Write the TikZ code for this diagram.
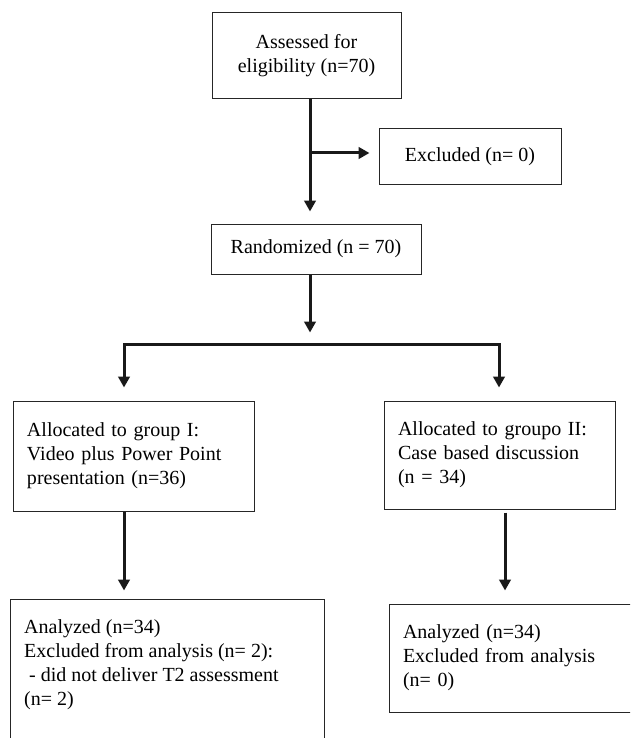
\documentclass[tikz,border=0pt]{standalone}
\usepackage{fontspec}
\setmainfont{Liberation Serif}
\usetikzlibrary{arrows.meta}
\tikzset{
  box/.style={draw=black!85, line width=1pt, inner sep=0pt, font=\fontsize{20}{24}\selectfont},
  lbox/.style={box, align=left, inner xsep=14pt},
  txt/.style={inner sep=0pt, align=left, font=\fontsize{20}{24}\selectfont},
  conn/.style={line width=3pt, draw=black!90, -{Triangle[length=11pt,width=11.5pt]}},
  plain/.style={line width=3pt, draw=black!90}
}
\begin{document}
\begin{tikzpicture}[x=1pt,y=-1pt]
\useasboundingbox (0,0) rectangle (630,738);
\clip (0,0) rectangle (630,738);
% boxes
\node[box, align=center, minimum width=189pt, minimum height=86pt] (assess) at (306.5,56) {Assessed for\\eligibility (n=70)};
\node[box, minimum width=182pt, minimum height=55pt] (excl) at (470,156.5) {Excluded (n= 0)};
\node[box, minimum width=210pt, minimum height=50pt] (rand) at (316,249) {Randomized (n = 70)};
\node[lbox, text width=213pt, minimum width=241pt, minimum height=110pt] (alloc1) at (133.5,456) {Allocated to group I:\\Video plus Power Point\\presentation (n=36)};
\node[lbox, text width=203pt, minimum width=231pt, minimum height=108pt] (alloc2) at (499.5,455) {Allocated to groupo II:\\Case based discussion\\(n = 34)};
\node[box, minimum width=314pt, minimum height=161pt] (an1) at (167,679.5) {};
\node[txt, anchor=north west] (an1txt) at (24,619.5) {Analyzed (n=34)\\Excluded from analysis (n= 2):\\\hspace*{5pt}- did not deliver T2 assessment\\(n= 2)};
\node[lbox, text width=233pt, minimum width=261pt, minimum height=108pt] (an2) at (519.5,658) {Analyzed (n=34)\\Excluded from analysis\\(n= 0)};
% coordinates
\coordinate (tx) at (310,0);
\coordinate (bj) at (310,153);
\coordinate (split) at (310,344);
\coordinate (la) at (124,344);
\coordinate (ra) at (499,344);
\coordinate (lx) at (124,0);
\coordinate (rx) at (505,0);
% connectors
\draw[conn, shorten >=12pt] (assess.south -| tx) -- (rand.north -| tx);
\draw[conn, shorten >=9pt] (bj) -- (bj -| excl.west);
\draw[conn, shorten >=11.5pt] (rand.south -| tx) -- (split);
\draw[plain, line cap=rect] (la) -- (ra);
\draw[conn, shorten >=13pt] (la) -- (la |- alloc1.north);
\draw[conn, shorten >=13pt] (ra) -- (ra |- alloc2.north);
\draw[conn, shorten >=8pt] (alloc1.south -| lx) -- (an1.north -| lx);
\draw[conn, shorten <=3pt, shorten >=13pt] (alloc2.south -| rx) -- (an2.north -| rx);
\end{tikzpicture}
\end{document}
